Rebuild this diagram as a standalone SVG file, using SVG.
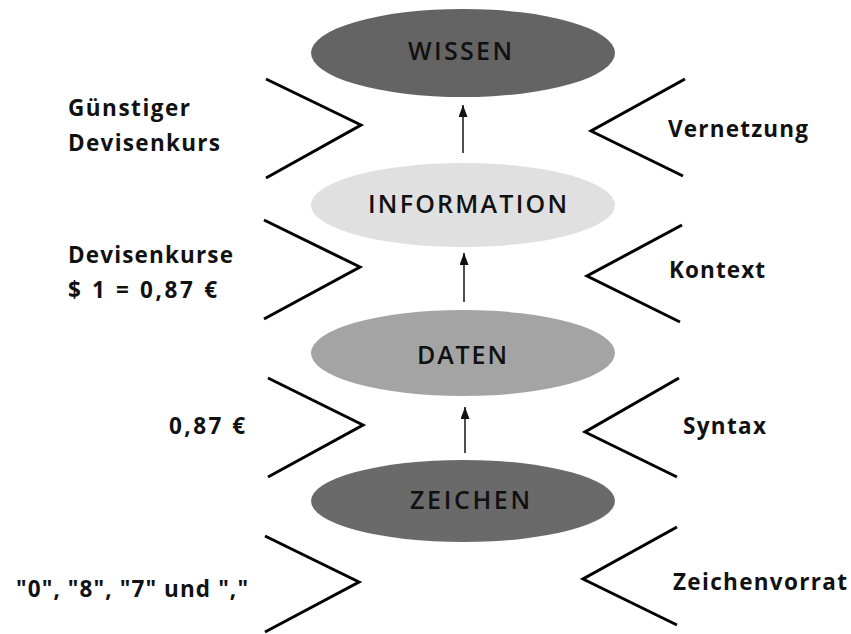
<svg xmlns="http://www.w3.org/2000/svg" width="851" height="634" viewBox="0 0 851 634">
  <style>
    .lbl { font-family: "Open Sans", "Liberation Sans", sans-serif; font-weight: 700; font-size: 22.5px; fill: #111; }
    .node-lbl { font-family: "Open Sans", "Liberation Sans", sans-serif; font-weight: 600; font-size: 25px; fill: #111; }
    .chev { fill: none; stroke: #000; stroke-width: 3; stroke-linejoin: miter; }
    .conn { stroke: #222; stroke-width: 1.6; fill: none; marker-end: url(#arrow); }
  </style>
  <defs>
    <marker id="arrow" viewBox="0 0 12 9" refX="12" refY="4.5" markerWidth="12" markerHeight="9" markerUnits="userSpaceOnUse" orient="auto">
      <path d="M0,0 L12,4.5 L0,9 Z" fill="#111"/>
    </marker>
  </defs>
  <rect width="851" height="634" fill="#fff"/>

  <!-- pyramid levels -->
  <g id="wissen">
    <ellipse cx="463" cy="53" rx="152" ry="44" fill="#646464"/>
    <text class="node-lbl" x="408" y="60" textLength="104" lengthAdjust="spacing">WISSEN</text>
  </g>
  <g id="information">
    <ellipse cx="463" cy="205" rx="152" ry="42" fill="#e0e0e0"/>
    <text class="node-lbl" x="368" y="213" textLength="199" lengthAdjust="spacing">INFORMATION</text>
  </g>
  <g id="daten">
    <ellipse cx="463" cy="353" rx="152" ry="43" fill="#a4a4a4"/>
    <text class="node-lbl" x="417" y="364" textLength="90" lengthAdjust="spacing">DATEN</text>
  </g>
  <g id="zeichen">
    <ellipse cx="463" cy="501" rx="152" ry="41" fill="#6a6a6a"/>
    <text class="node-lbl" x="410" y="509" textLength="120" lengthAdjust="spacing">ZEICHEN</text>
  </g>

  <!-- upward connectors -->
  <g id="connectors">
    <line class="conn" x1="463" y1="153" x2="463" y2="105"/>
    <line class="conn" x1="464" y1="302" x2="464" y2="253"/>
    <line class="conn" x1="465" y1="453" x2="465" y2="407"/>
  </g>

  <!-- left brackets -->
  <g id="left-brackets">
    <polyline class="chev" points="266,79 361,125 266,178"/>
    <polyline class="chev" points="264,220 360,267 264,319"/>
    <polyline class="chev" points="268,378 363,425 268,477"/>
    <polyline class="chev" points="265,536 359,582 265,632"/>
  </g>

  <!-- right brackets -->
  <g id="right-brackets">
    <polyline class="chev" points="685,79 591,131 683,176"/>
    <polyline class="chev" points="682,225 587,276 680,322"/>
    <polyline class="chev" points="679,378 585,432 677,477"/>
    <polyline class="chev" points="677,527 583,579 677,625"/>
  </g>

  <!-- examples -->
  <g id="examples">
    <text class="lbl" x="68" y="116" textLength="122" lengthAdjust="spacing">Günstiger</text>
    <text class="lbl" x="68" y="151" textLength="152" lengthAdjust="spacing">Devisenkurs</text>
    <text class="lbl" x="68" y="263" textLength="165" lengthAdjust="spacing">Devisenkurse</text>
    <text class="lbl" x="68" y="298" textLength="149" lengthAdjust="spacing">$ 1 = 0,87 €</text>
    <text class="lbl" x="169" y="434" textLength="76" lengthAdjust="spacing">0,87 €</text>
    <text class="lbl" x="16" y="597" textLength="232" lengthAdjust="spacing">"0", "8", "7" und ","</text>
  </g>

  <!-- transitions -->
  <g id="transitions">
    <text class="lbl" x="668" y="137" textLength="140" lengthAdjust="spacing">Vernetzung</text>
    <text class="lbl" x="669" y="278" textLength="96" lengthAdjust="spacing">Kontext</text>
    <text class="lbl" x="683" y="434" textLength="83" lengthAdjust="spacing">Syntax</text>
    <text class="lbl" x="673" y="590" textLength="174" lengthAdjust="spacing">Zeichenvorrat</text>
  </g>
</svg>
